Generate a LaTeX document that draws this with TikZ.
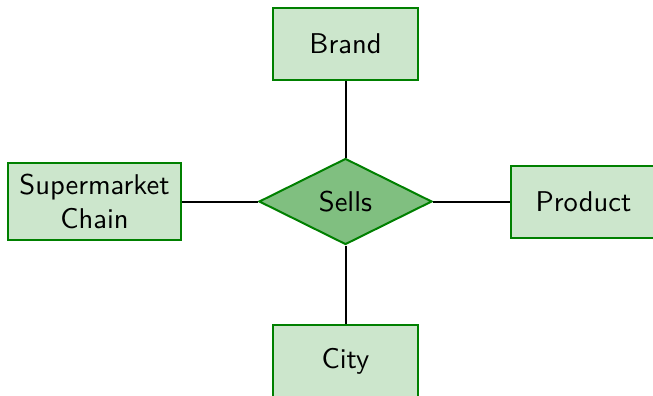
\documentclass[tikz,border=0pt]{standalone}
\usetikzlibrary{shapes.geometric}
\definecolor{ergreen}{RGB}{0,128,0}
\tikzset{
  entity/.style={draw=ergreen,fill=ergreen!20,line width=0.7pt,minimum width=145*0.35pt,minimum height=72*0.35pt,font=\sffamily,align=center,inner sep=4pt},
  relation/.style={diamond,draw=ergreen,fill=ergreen!50,line width=0.7pt,minimum width=173*0.35pt,minimum height=86*0.35pt,inner sep=0pt,font=\sffamily},
  link/.style={draw=black,line width=0.7pt}
}
\begin{document}
\begin{tikzpicture}[x=0.35pt,y=0.35pt]
\useasboundingbox (0,0) rectangle (653,395);

\node[relation] (sells) at (345.5,193.5) {Sells};
\node[entity] (brand) at (345.5,351.5) {Brand};
\node[entity] (chain) at (94.5,193.5) {Supermarket\\Chain};
\node[entity] (product) at (583.5,193.5) {Product};
\node[entity] (city) at (345.5,34) {City};

\path[link] (sells) -- (brand);
\path[link] (sells) -- (chain);
\path[link] (sells) -- (product);
\path[link] (sells) -- (city);
\end{tikzpicture}
\end{document}
